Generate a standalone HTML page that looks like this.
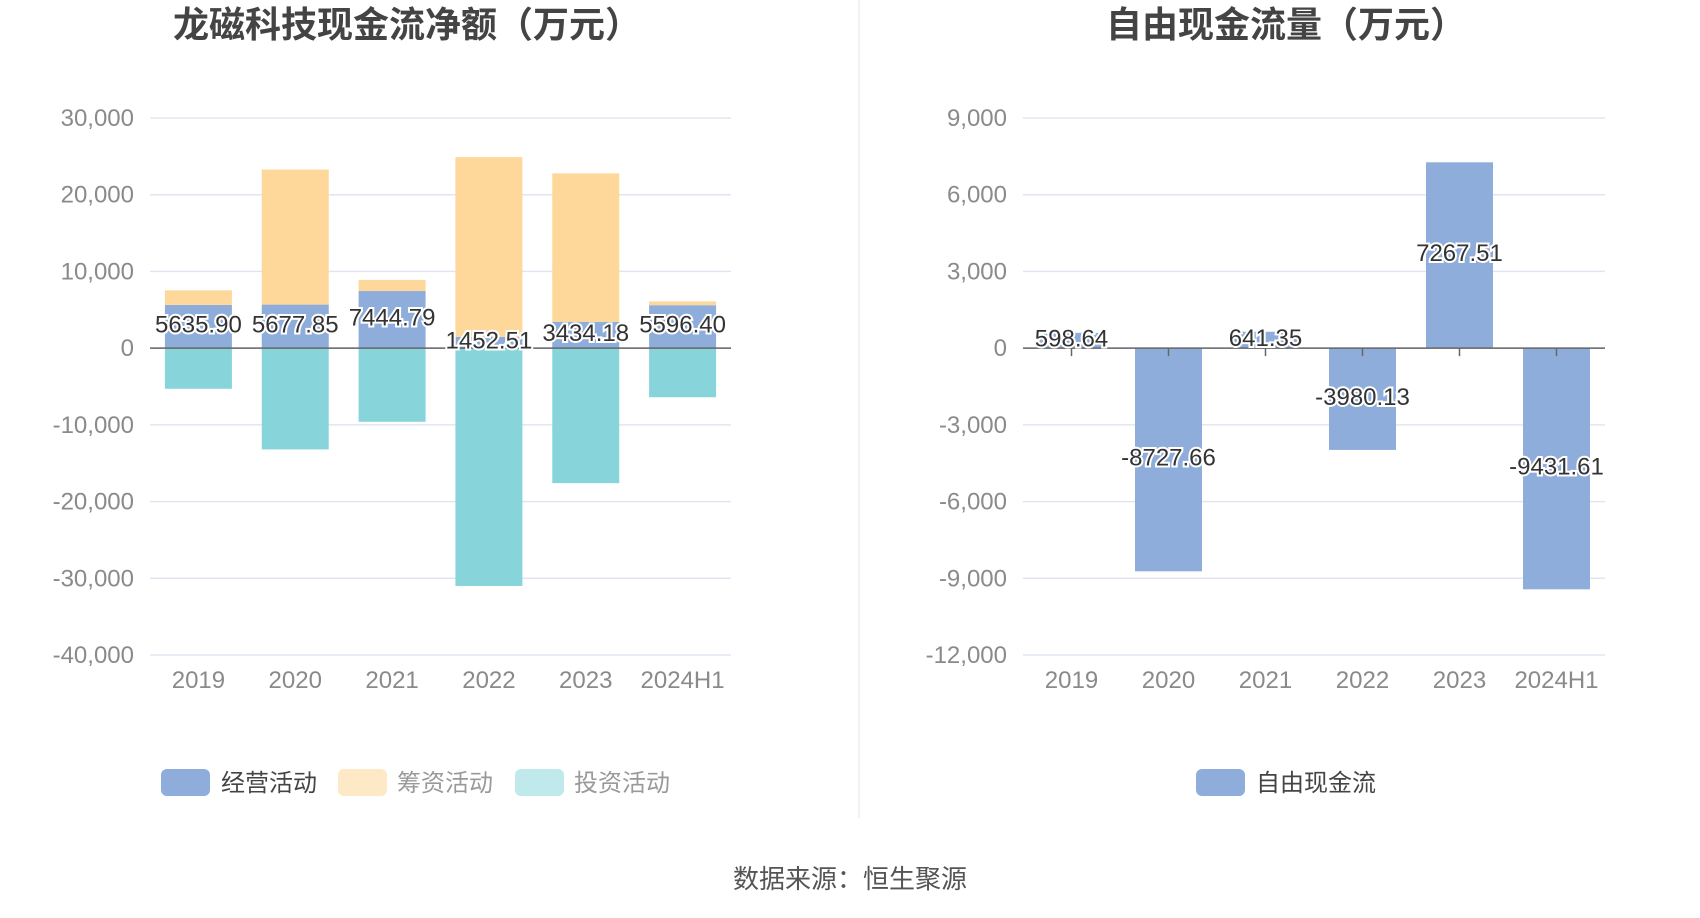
<!DOCTYPE html>
<html><head><meta charset="utf-8"><style>
body{margin:0;background:#fff;width:1700px;height:918px;overflow:hidden}
svg{display:block;font-family:"Liberation Sans","Noto Sans CJK SC",sans-serif}
</style></head><body>
<svg id="c" width="1700" height="918">
<text x="407" y="37" text-anchor="middle" font-size="36" font-weight="bold" fill="#444">龙磁科技现金流净额（万元）</text>
<text x="1286" y="37" text-anchor="middle" font-size="36" font-weight="bold" fill="#444">自由现金流量（万元）</text>
<line x1="859" y1="0" x2="859" y2="818" stroke="#eee" stroke-width="1.5"/>
<text x="850" y="888" text-anchor="middle" font-size="26" fill="#555">数据来源：恒生聚源</text>
<g id="L"></g><g id="R"></g>
<g>
<rect x="161" y="769" width="49" height="27" rx="6" fill="#8eaddb"/>
<text x="221" y="791" font-size="24" fill="#444">经营活动</text>
<rect x="338" y="769" width="49" height="27" rx="6" fill="#fde9c6"/>
<text x="397" y="791" font-size="24" fill="#999">筹资活动</text>
<rect x="515" y="769" width="49" height="27" rx="6" fill="#c0e9eb"/>
<text x="574" y="791" font-size="24" fill="#999">投资活动</text>
</g>
<g>
<rect x="1196" y="769" width="49" height="27" rx="6" fill="#8eaddb"/>
<text x="1256" y="791" font-size="24" fill="#444">自由现金流</text>
</g>
</svg>
<script>
const categories=["2019","2020","2021","2022","2023","2024H1"];
const operating=[5635.90,5677.85,7444.79,1452.51,3434.18,5596.40];
const financing=[1900,17600,1450,23450,19350,500];
const investing=[-5300,-13200,-9600,-31000,-17600,-6400];
const fcf=[598.64,-8727.66,641.35,-3980.13,7267.51,-9431.61];
const leftTicks=[30000,20000,10000,0,-10000,-20000,-30000,-40000];
const rightTicks=[9000,6000,3000,0,-3000,-6000,-9000,-12000];
const NS="http://www.w3.org/2000/svg";
function mk(p,t,a){const e=document.createElementNS(NS,t);for(const k in a)e.setAttribute(k,a[k]);p.appendChild(e);return e;}
function fmt(v){return v.toLocaleString('en-US');}
function axes(g,x0,x1,ticks){
  const max=ticks[0],min=ticks[ticks.length-1],top=118,bot=655;
  const y=v=>top+(max-v)/(max-min)*(bot-top);
  ticks.forEach(t=>{
    const l=mk(g,'line',{x1:x0,x2:x1,y1:y(t),y2:y(t),stroke:'#e0e6f1','stroke-width':1.5});
    
    
    const tx=mk(g,'text',{x:x0-16,y:y(t)+8,'text-anchor':'end','font-size':24,fill:'#8a8a8a'});
    tx.textContent=fmt(t);
    
    
  });
  const bw=(x1-x0)/categories.length;
  const cx=i=>x0+bw*(i+0.5);
  categories.forEach((c,i)=>{
    const tx=mk(g,'text',{x:cx(i),y:688,'text-anchor':'middle','font-size':24,fill:'#8a8a8a'});
    tx.textContent=c;
    
    
  });
  return {y,cx,bw};
}
function bar(g,x,y0,y1,fill,name){
  const r=mk(g,'rect',{x:x,y:Math.min(y0,y1),width:67,height:Math.abs(y1-y0),fill:fill});
  
  
}
function label(g,x,y,v){
  const t=mk(g,'text',{x:x,y:y,'text-anchor':'middle','font-size':24,fill:'#333',stroke:'#fff','stroke-width':4,'paint-order':'stroke'});
  t.textContent=v.toFixed(2);
  
  
}
const L=document.getElementById('L');
const a=axes(L,150,731,leftTicks);
categories.forEach((c,i)=>{
  const x=a.cx(i)-33.5;
  bar(L,x,a.y(0),a.y(operating[i]),'#8eaddb','bar-operating-'+c);
  bar(L,x,a.y(operating[i]),a.y(operating[i]+financing[i]),'#fed89b','bar-financing-'+c);
  bar(L,x,a.y(0),a.y(investing[i]),'#87d5da','bar-investing-'+c);
});
const z1=mk(L,'line',{x1:150,x2:731,y1:a.y(0),y2:a.y(0),stroke:'#666','stroke-width':1.5});


categories.forEach((c,i)=>label(L,a.cx(i),(a.y(0)+a.y(operating[i]))/2+6,operating[i]));
const R=document.getElementById('R');
const b=axes(R,1023,1605,rightTicks);
categories.forEach((c,i)=>bar(R,b.cx(i)-33.5,b.y(0),b.y(fcf[i]),'#8eaddb','bar-fcf-'+c));
const z2=mk(R,'line',{x1:1023,x2:1605,y1:b.y(0),y2:b.y(0),stroke:'#666','stroke-width':1.5});


categories.forEach((c,i)=>{
  const tk=mk(R,'line',{x1:b.cx(i),x2:b.cx(i),y1:b.y(0),y2:b.y(0)+8,stroke:'#666','stroke-width':1.5});
  
  
  label(R,b.cx(i),(b.y(0)+b.y(fcf[i]))/2+6,fcf[i]);
});
</script>
</body></html>
